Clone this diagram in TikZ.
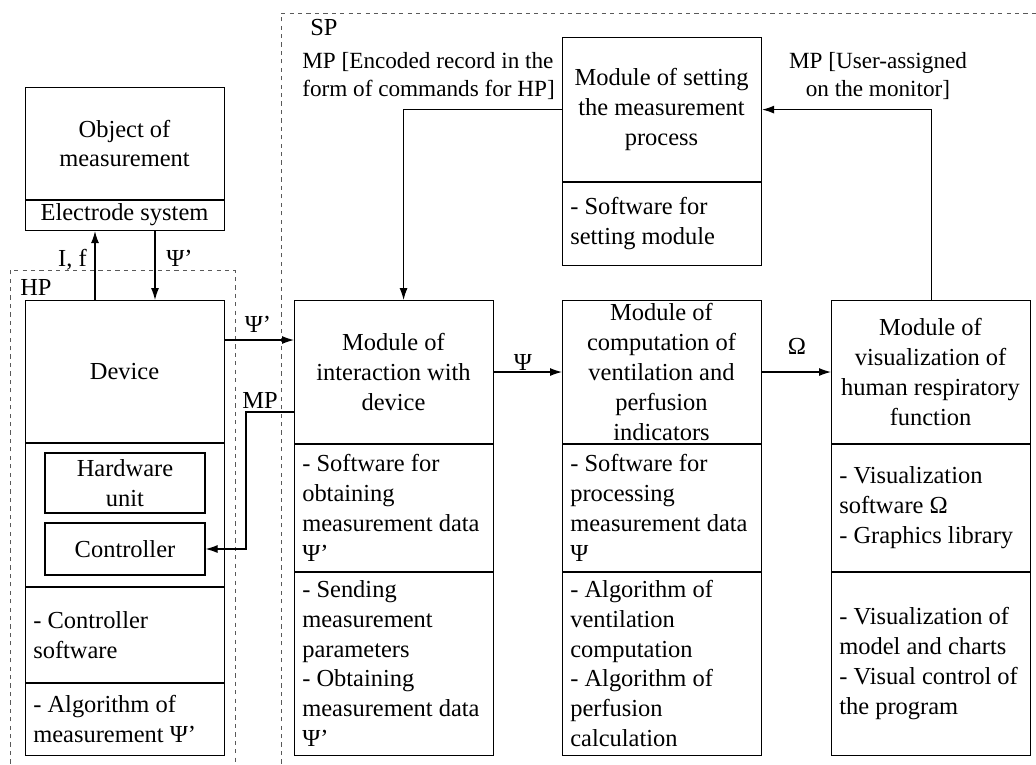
\documentclass[tikz,border=0pt]{standalone}
\usepackage{fontspec}
\setmainfont{Liberation Serif}
\usepackage{tikz}
\usetikzlibrary{arrows.meta,calc}

\begin{document}
\begin{tikzpicture}[
  every node/.style={font=\fontsize{17.4}{21.3}\selectfont, inner sep=0pt},
  box/.style={draw, line width=0.8pt, anchor=north west, minimum width=4.975cm},
  title/.style={align=center},
  list/.style={align=left, anchor=west},
  note/.style={font=\fontsize{16.5}{19.9}\selectfont},
  region/.style={draw=gray!70!black, dashed, line width=0.6pt},
  wire/.style={line width=0.8pt},
  arr/.style={line width=0.8pt, -{Latex[length=0.3cm,width=0.2cm]}}
]
\useasboundingbox (0cm,0cm) rectangle (25.9cm,-19.1cm);

\draw[region] (0.25cm,-19.3cm) -- (0.25cm,-6.75cm) -- (5.875cm,-6.75cm) -- (5.875cm,-19.3cm);
\draw[region] (7.025cm,-19.3cm) -- (7.025cm,-0.325cm) -- (26.1cm,-0.325cm);
\node[anchor=west] (hp) at (0.5cm,-7.175cm) {HP};
\node[anchor=west] (sp) at (7.75cm,-0.7cm) {SP};

\node[box, minimum height=3.575cm] (obj) at (0.625cm,-2.175cm) {};
\draw[wire] (obj.west |- 0,-5cm) -- (obj.east |- 0,-5cm);
\node[title] (objt) at (3.1125cm,-3.5875cm) {Object of\\measurement};
\node[title] (elec) at (3.1125cm,-5.375cm) {Electrode system};

\node[box, minimum height=11.375cm] (dev) at (0.625cm,-7.5cm) {};
\draw[wire] (dev.west |- 0,-11.075cm) -- (dev.east |- 0,-11.075cm);
\draw[wire] (dev.west |- 0,-14.675cm) -- (dev.east |- 0,-14.675cm);
\draw[wire] (dev.west |- 0,-17.075cm) -- (dev.east |- 0,-17.075cm);
\node[title] (devt) at (3.1125cm,-9.2875cm) {Device};
\node[title, draw, line width=0.8pt, minimum width=4cm, minimum height=1.5cm] (hw) at (3.125cm,-12.075cm) {Hardware\\unit};
\node[title, draw, line width=0.8pt, minimum width=4cm, minimum height=1.3cm] (ctrl) at (3.125cm,-13.725cm) {Controller};
\node[list] (devs) at (0.825cm,-15.875cm) {- Controller\\software};
\node[list] (deva) at (0.825cm,-17.975cm) {- Algorithm of\\measurement Ψ’};

\node[box, minimum height=5.7cm] (set) at (14.05cm,-0.925cm) {};
\draw[wire] (set.west |- 0,-4.55cm) -- (set.east |- 0,-4.55cm);
\node[title] (sett) at (16.5375cm,-2.74cm) {Module of setting\\the measurement\\process};
\node[list] (sets) at (14.25cm,-5.5875cm) {- Software for\\setting module};

\node[box, minimum height=11.375cm] (m1) at (7.35cm,-7.5cm) {};
\node[box, minimum height=11.375cm] (m2) at (14.05cm,-7.5cm) {};
\node[box, minimum height=11.375cm] (m3) at (20.775cm,-7.5cm) {};
\draw[wire] (m1.west |- 0,-11.1cm) -- (m1.east |- 0,-11.1cm);
\draw[wire] (m1.west |- 0,-14.3cm) -- (m1.east |- 0,-14.3cm);
\draw[wire] (m2.west |- 0,-11.1cm) -- (m2.east |- 0,-11.1cm);
\draw[wire] (m2.west |- 0,-14.3cm) -- (m2.east |- 0,-14.3cm);
\draw[wire] (m3.west |- 0,-11.1cm) -- (m3.east |- 0,-11.1cm);
\draw[wire] (m3.west |- 0,-14.3cm) -- (m3.east |- 0,-14.3cm);

\node[title] (m1t) at (9.8375cm,-9.3cm) {Module of\\interaction with\\device};
\node[list] (m1s) at (7.55cm,-12.7cm) {- Software for\\obtaining\\measurement data\\Ψ’};
\node[list] (m1a) at (7.55cm,-16.5875cm) {- Sending\\measurement\\parameters\\- Obtaining\\measurement data\\Ψ’};

\node[title] (m2t) at (16.5375cm,-9.3cm) {Module of\\computation of\\ventilation and\\perfusion\\indicators};
\node[list] (m2s) at (14.25cm,-12.7cm) {- Software for\\processing\\measurement data\\Ψ};
\node[list] (m2a) at (14.25cm,-16.5875cm) {- Algorithm of\\ventilation\\computation\\- Algorithm of\\perfusion\\calculation};

\node[title] (m3t) at (23.2625cm,-9.3cm) {Module of\\visualization of\\human respiratory\\function};
\node[list] (m3s) at (20.975cm,-12.7cm) {- Visualization\\software Ω\\- Graphics library};
\node[list] (m3a) at (20.975cm,-16.5875cm) {- Visualization of\\model and charts\\- Visual control of\\the program};

\node[note, anchor=west, align=left] (mpl) at (7.55cm,-1.9cm) {MP [Encoded record in the\\form of commands for HP]};
\node[note, title] (mpr) at (21.95cm,-1.9cm) {MP [User-assigned\\on the monitor]};

\draw[arr] (dev.north -| 2.375cm,0) -- (obj.south -| 2.375cm,0);
\node[anchor=east] (if) at (2.175cm,-6.5cm) {I, f};
\draw[arr] (obj.south -| 3.875cm,0) -- (dev.north -| 3.875cm,0);
\node[anchor=west] (psia) at (4.15cm,-6.45cm) {Ψ’};

\draw[arr] (dev.east |- 0,-8.5cm) -- (m1.west |- 0,-8.5cm);
\node (psib) at (6.45cm,-8.1cm) {Ψ’};
\draw[arr] (m1.west |- 0,-10.3cm) -- (6.15cm,-10.3cm) |- (ctrl.east);
\node (mpd) at (6.5cm,-10.0cm) {MP};

\draw[arr] (m1.east |- m1t) -- (m2.west |- m1t);
\node (psic) at (13.075cm,-9.05cm) {Ψ};
\draw[arr] (m2.east |- m2t) -- (m3.west |- m2t);
\node (omg) at (19.925cm,-8.65cm) {Ω};

\draw[arr] (set.west |- sett) -| ($(m1.north)+(0.2375cm,0)$);
\draw[arr] (m3.north) |- (set.east |- sett);
\end{tikzpicture}
\end{document}
